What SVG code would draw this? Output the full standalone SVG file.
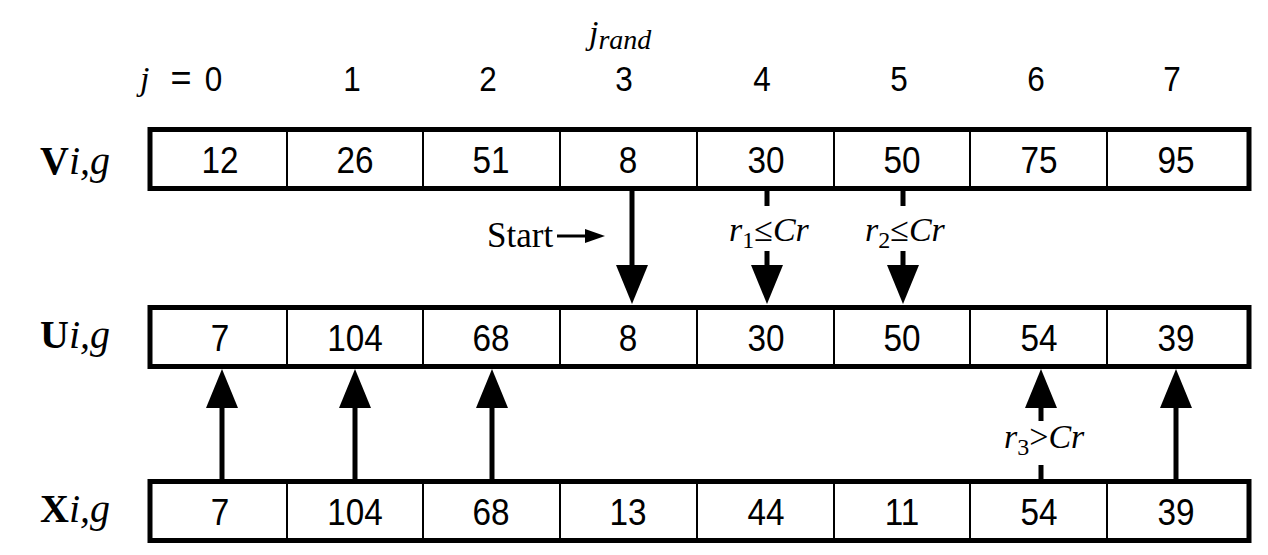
<svg xmlns="http://www.w3.org/2000/svg" width="1268" height="555" viewBox="0 0 1268 555">
<style>
.bg{fill:#fff}
.outer{fill:none;stroke:#000;stroke-width:5}
.div{stroke:#000;stroke-width:2}
.num{font-family:"Liberation Sans",Arial,sans-serif;font-size:37px;text-anchor:middle;fill:#000}
.hdr{font-size:35px}
.ser{font-family:"Liberation Serif","Times New Roman",serif;fill:#000}
.it{font-style:italic}
.bd{font-weight:bold}
.ln{stroke:#000;stroke-width:5;fill:none}
.hd{fill:#000}
</style>
<rect class="bg" x="0" y="0" width="1268" height="555"/>

<g id="header">
  <text class="ser it" x="589" y="44" font-size="34">j<tspan font-size="28" dy="5">rand</tspan></text>
  <text class="ser it" x="140" y="90" font-size="34">j</text>
  <text x="181" y="90" font-family="Liberation Sans, Arial, sans-serif" font-size="36" text-anchor="middle">=</text>
  <g transform="scale(0.9 1)">
    <text class="num hdr" x="237.2" y="91">0</text>
    <text class="num hdr" x="391.1" y="91">1</text>
    <text class="num hdr" x="542.2" y="91">2</text>
    <text class="num hdr" x="693.3" y="91">3</text>
    <text class="num hdr" x="846.7" y="91">4</text>
    <text class="num hdr" x="998.9" y="91">5</text>
    <text class="num hdr" x="1151.1" y="91">6</text>
    <text class="num hdr" x="1302.2" y="91">7</text>
  </g>
</g>

<g id="row-V">
  <text class="ser" x="40" y="174" font-size="40"><tspan class="bd">V</tspan><tspan class="it">i,g</tspan></text>
  <rect class="outer" x="150" y="129.5" width="1099" height="59"/>
  <path class="div" d="M287 129.5V188.5M423 129.5V188.5M560 129.5V188.5M697 129.5V188.5M834 129.5V188.5M970 129.5V188.5M1107 129.5V188.5"/>
  <g transform="scale(0.9 1)">
    <text class="num" x="244.4" y="173">12</text>
    <text class="num" x="394.4" y="173">26</text>
    <text class="num" x="545.6" y="173">51</text>
    <text class="num" x="697.8" y="173">8</text>
    <text class="num" x="851.1" y="173">30</text>
    <text class="num" x="1002.2" y="173">50</text>
    <text class="num" x="1154.4" y="173">75</text>
    <text class="num" x="1306.7" y="173">95</text>
  </g>
</g>

<g id="row-U">
  <text class="ser" x="40" y="348" font-size="40"><tspan class="bd">U</tspan><tspan class="it">i,g</tspan></text>
  <rect class="outer" x="150" y="307.5" width="1099" height="59"/>
  <path class="div" d="M287 307.5V366.5M423 307.5V366.5M560 307.5V366.5M697 307.5V366.5M834 307.5V366.5M970 307.5V366.5M1107 307.5V366.5"/>
  <g transform="scale(0.9 1)">
    <text class="num" x="244.4" y="351">7</text>
    <text class="num" x="394.4" y="351">104</text>
    <text class="num" x="545.6" y="351">68</text>
    <text class="num" x="697.8" y="351">8</text>
    <text class="num" x="851.1" y="351">30</text>
    <text class="num" x="1002.2" y="351">50</text>
    <text class="num" x="1154.4" y="351">54</text>
    <text class="num" x="1306.7" y="351">39</text>
  </g>
</g>

<g id="row-X">
  <text class="ser" x="40" y="522" font-size="40"><tspan class="bd">X</tspan><tspan class="it">i,g</tspan></text>
  <rect class="outer" x="150" y="481.5" width="1099" height="59"/>
  <path class="div" d="M287 481.5V540.5M423 481.5V540.5M560 481.5V540.5M697 481.5V540.5M834 481.5V540.5M970 481.5V540.5M1107 481.5V540.5"/>
  <g transform="scale(0.9 1)">
    <text class="num" x="244.4" y="525">7</text>
    <text class="num" x="394.4" y="525">104</text>
    <text class="num" x="545.6" y="525">68</text>
    <text class="num" x="697.8" y="525">13</text>
    <text class="num" x="851.1" y="525">44</text>
    <text class="num" x="1002.2" y="525">11</text>
    <text class="num" x="1154.4" y="525">54</text>
    <text class="num" x="1306.7" y="525">39</text>
  </g>
</g>

<g id="connectors">
  <path class="ln" d="M632 191V266"/>
  <polygon class="hd" points="616,265 648,265 632,304"/>
  <path class="ln" d="M767 191V206M767 251V266"/>
  <polygon class="hd" points="751,265 783,265 767,304"/>
  <path class="ln" d="M903 191V206M903 251V266"/>
  <polygon class="hd" points="887,265 919,265 903,304"/>
  <path class="ln" d="M222 479V406"/>
  <polygon class="hd" points="206,408 238,408 222,369"/>
  <path class="ln" d="M355 479V406"/>
  <polygon class="hd" points="339,408 371,408 355,369"/>
  <path class="ln" d="M492 479V406"/>
  <polygon class="hd" points="476,408 508,408 492,369"/>
  <path class="ln" d="M1041 479V465M1041 421V406"/>
  <polygon class="hd" points="1025,408 1057,408 1041,369"/>
  <path class="ln" d="M1176 479V406"/>
  <polygon class="hd" points="1160,408 1192,408 1176,369"/>
  <path d="M557 236H588" stroke="#000" stroke-width="3"/>
  <polygon class="hd" points="585,229 605,236 585,243"/>
</g>

<g id="labels">
  <text class="ser" x="487" y="247" font-size="35">Start</text>
  <text class="ser" x="729" y="241" font-size="34"><tspan class="it">r</tspan><tspan font-size="24" dy="7">1</tspan><tspan dy="-7">≤</tspan><tspan class="it">Cr</tspan></text>
  <text class="ser" x="865" y="241" font-size="34"><tspan class="it">r</tspan><tspan font-size="24" dy="7">2</tspan><tspan dy="-7">≤</tspan><tspan class="it">Cr</tspan></text>
  <text class="ser" x="1004" y="448" font-size="34"><tspan class="it">r</tspan><tspan font-size="24" dy="7">3</tspan><tspan dy="-7">&gt;</tspan><tspan class="it">Cr</tspan></text>
</g>
</svg>
